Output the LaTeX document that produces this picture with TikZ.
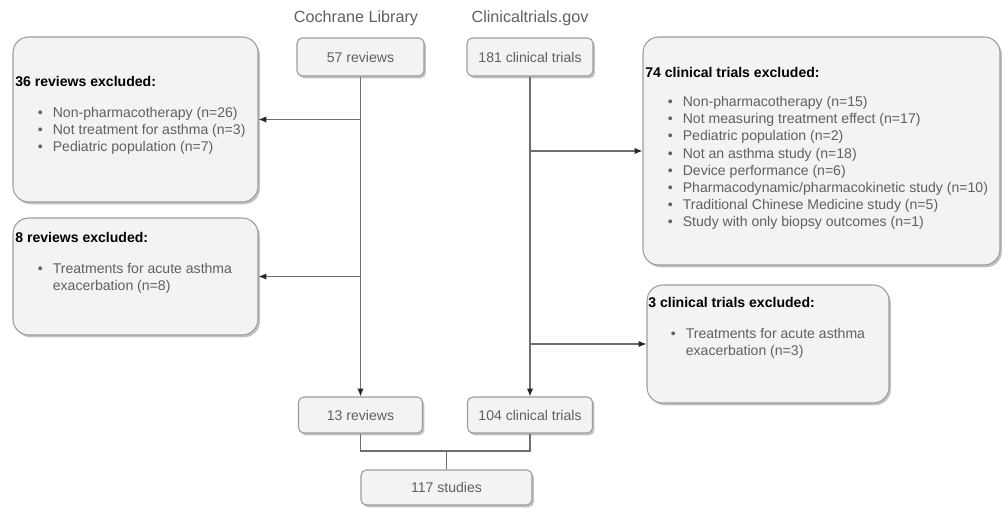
\documentclass[tikz,border=0pt]{standalone}
\usepackage{fontspec}
\setmainfont{Liberation Sans}
\usetikzlibrary{calc}
\usetikzlibrary{shadows}
\usetikzlibrary{arrows.meta}
\definecolor{boxfill}{HTML}{F3F3F3}
\definecolor{boxline}{HTML}{9C9C9C}
\definecolor{txtgray}{HTML}{606060}
\definecolor{linegray}{HTML}{6E6E6E}
\newcommand{\exitem}[1]{\hspace*{0.45cm}\makebox[0.30cm][l]{\textbullet}#1}% bullet line
\newcommand{\exmore}[1]{\hspace*{0.75cm}#1}% wrapped line

\begin{document}
\begin{tikzpicture}[
	countbox/.style={draw=boxline, fill=boxfill, line width=0.6pt, rounded corners=3pt,
		drop shadow={shadow xshift=1.1pt, shadow yshift=-1.3pt, fill=black!40, opacity=0.6},
		text=txtgray, font=\fontsize{8}{9.7}\selectfont},
	exbox/.style={countbox, rounded corners=9pt},
	extext/.style={anchor=north west, inner sep=0pt, align=left, text=txtgray, font=\fontsize{8}{9.7}\selectfont},
	srclabel/.style={text=txtgray, font=\fontsize{9.2}{11}\selectfont},
	flow/.style={draw=linegray, line width=0.7pt, >={Latex[length=4.5pt,width=3.6pt,black!85]}}]
	\useasboundingbox (0,0) rectangle (20.06,10.16);

	%SOURCES
	\node[srclabel] (cochrane) at (7.12,9.80) {Cochrane Library};
	\node[srclabel] (ctgov) at (10.60,9.80) {Clinicaltrials.gov};

	%COUNT BOXES
	\node[countbox, minimum width=2.54cm, minimum height=0.76cm] (rev57) at (7.21,9.02) {57 reviews};
	\node[countbox, minimum width=2.52cm, minimum height=0.76cm] (ct181) at (10.60,9.02) {181 clinical trials};
	\node[countbox, minimum width=2.48cm, minimum height=0.72cm] (rev13) at (7.21,1.86) {13 reviews};
	\node[countbox, minimum width=2.50cm, minimum height=0.72cm] (ct104) at (10.60,1.86) {104 clinical trials};
	\node[countbox, minimum width=3.42cm, minimum height=0.70cm] (stud117) at (8.93,0.41) {117 studies};

	%EXCLUSION BOXES
	\node[exbox, minimum width=4.90cm, minimum height=3.30cm] (ex36) at (2.71,7.77) {};	%left top
	\node[exbox, minimum width=4.90cm, minimum height=2.34cm] (ex8) at (2.71,4.63) {};	%left low
	\node[exbox, minimum width=7.14cm, minimum height=4.56cm] (ex74) at (16.43,7.14) {};	%right top
	\node[exbox, minimum width=4.84cm, minimum height=2.36cm] (ex3) at (15.36,3.28) {};	%right low

	%LABELS
	\node[extext] (ex36txt) at (0.30,8.64) {\textcolor{black}{\textbf{36 reviews excluded:}}\\[8pt]
		\exitem{Non-pharmacotherapy (n=26)}\\
		\exitem{Not treatment for asthma (n=3)}\\
		\exitem{Pediatric population (n=7)}};
	\node[extext] (ex8txt) at (0.30,5.52) {\textcolor{black}{\textbf{8 reviews excluded:}}\\[8pt]
		\exitem{Treatments for acute asthma}\\
		\exmore{exacerbation (n=8)}};
	\node[extext] (ex74txt) at (12.90,8.82) {\textcolor{black}{\textbf{74 clinical trials excluded:}}\\[7pt]
		\exitem{Non-pharmacotherapy (n=15)}\\
		\exitem{Not measuring treatment effect (n=17)}\\
		\exitem{Pediatric population (n=2)}\\
		\exitem{Not an asthma study (n=18)}\\
		\exitem{Device performance (n=6)}\\
		\exitem{Pharmacodynamic/pharmacokinetic study (n=10)}\\
		\exitem{Traditional Chinese Medicine study (n=5)}\\
		\exitem{Study with only biopsy outcomes (n=1)}};
	\node[extext] (ex3txt) at (12.96,4.22) {\textcolor{black}{\textbf{3 clinical trials excluded:}}\\[8pt]
		\exitem{Treatments for acute asthma}\\
		\exmore{exacerbation (n=3)}};

	%FLOW LINES
	\draw[flow,->] (rev57) -- (rev13);
	\draw[flow,->] (ct181) -- (ct104);
	\draw[flow,->] (rev57.south |- ex36.east) -- (ex36.east);
	\draw[flow,->] (rev57.south |- ex8.east) -- (ex8.east);
	\draw[flow,->] (ct181.south |- ex74.west) -- (ex74.west);
	\draw[flow,->] (ct181.south |- ex3.west) -- (ex3.west);
	%
	\coordinate (join) at (8.93,1.14);
	\draw[flow] (rev13.south) |- (join) -| (ct104.south);
	\draw[flow] (join) -- (stud117.north);
\end{tikzpicture}
\end{document}
